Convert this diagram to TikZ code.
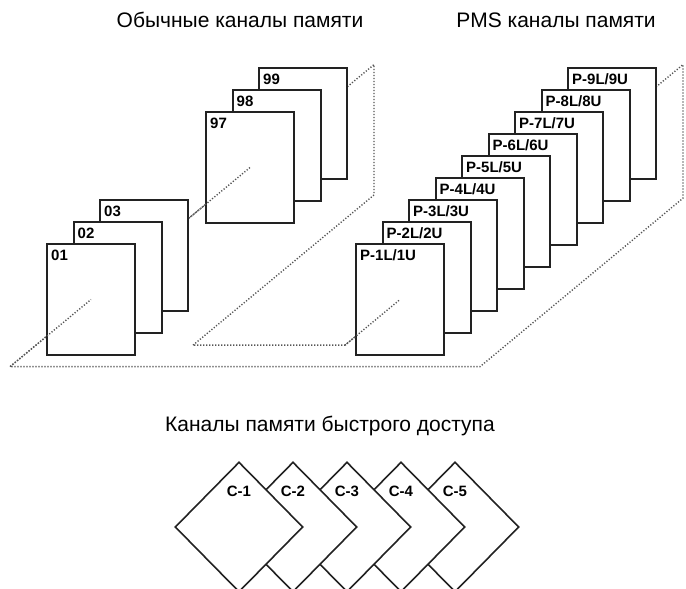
\documentclass[tikz,border=0pt]{standalone}
\usepackage{fontspec}
\setmainfont{Liberation Sans}
\usetikzlibrary{shapes.geometric,calc}
\definecolor{edge}{HTML}{222222}
\definecolor{plane}{HTML}{555555}
\tikzset{
  card/.style={draw=edge, fill=white, line width=2pt, minimum width=88pt, minimum height=111pt,
    inner sep=0pt, label={[cardlbl]north west:#1}},
  cardlbl/.style={anchor=north west, inner sep=0pt, xshift=5pt, yshift=-6.5pt,
    font=\bfseries\fontsize{15}{15}\selectfont},
  fast/.style={diamond, draw=edge, fill=white, line width=1.6pt, minimum width=128pt,
    minimum height=130pt, inner sep=0pt, label={[fastlbl]north:#1}},
  fastlbl/.style={anchor=center, inner sep=0pt, yshift=-30pt,
    font=\bfseries\fontsize{15}{15}\selectfont},
  planeline/.style={draw=plane, line width=1.4pt, dash pattern=on 1.2pt off 1.8pt},
  heading/.style={anchor=base, inner sep=0pt, font=\fontsize{21}{25}\selectfont}
}
\begin{document}
\begin{tikzpicture}[x=1pt, y=1pt]
      \useasboundingbox (0,0) rectangle (686,589);
      \clip (0,0) rectangle (686,589);
      \coordinate (A) at (10,222.3);
      \coordinate (B) at (374,524.4);
      \coordinate (C) at (374,394.0);
      \coordinate (D) at (193,243.8);
      \coordinate (E) at (345,243.8);
      \coordinate (F) at (683,524.4);
      \coordinate (G) at (683,390.8);
      \coordinate (H) at (480,222.3);
      \draw[planeline] (D) -- (C) -- (B) -- (A) -- (H) -- (G) -- (F) -- (E) -- cycle;
      \node[card=99] (k99) at (303.0,465.5) {};
      \node[card=98] (k98) at (276.5,443.5) {};
      \node[card=97] (k97) at (250.0,421.5) {};
      \node[card=03] (k03) at (144.0,333.5) {};
      \node[card=02] (k02) at (117.5,311.5) {};
      \node[card=01] (k01) at (91.0,289.5) {};
      \node[card=P-9L/9U] (p9) at (612.0,465.5) {};
      \node[card=P-8L/8U] (p8) at (585.5,443.5) {};
      \node[card=P-7L/7U] (p7) at (559.0,421.5) {};
      \node[card=P-6L/6U] (p6) at (532.5,399.5) {};
      \node[card=P-5L/5U] (p5) at (506.0,377.5) {};
      \node[card=P-4L/4U] (p4) at (479.5,355.5) {};
      \node[card=P-3L/3U] (p3) at (453.0,333.5) {};
      \node[card=P-2L/2U] (p2) at (426.5,311.5) {};
      \node[card=P-1L/1U] (p1) at (400.0,289.5) {};
      \draw[planeline] (A) -- (k01.center);
      \draw[planeline] (intersection of k03.north east--k03.south east and A--B) -- (k97.center);
      \draw[planeline] (E) -- (p1.center);
      \node[heading] (t1) at (240,561) {Обычные каналы памяти};
      \node[heading] (t2) at (556,561) {PMS каналы памяти};
      \node[heading] (t3) at (330,157) {Каналы памяти быстрого доступа};
      \node[fast=C-5] (c5) at (455,62) {};
      \node[fast=C-4] (c4) at (401,62) {};
      \node[fast=C-3] (c3) at (347,62) {};
      \node[fast=C-2] (c2) at (293,62) {};
      \node[fast=C-1] (c1) at (239,62) {};
    \end{tikzpicture}
\end{document}
